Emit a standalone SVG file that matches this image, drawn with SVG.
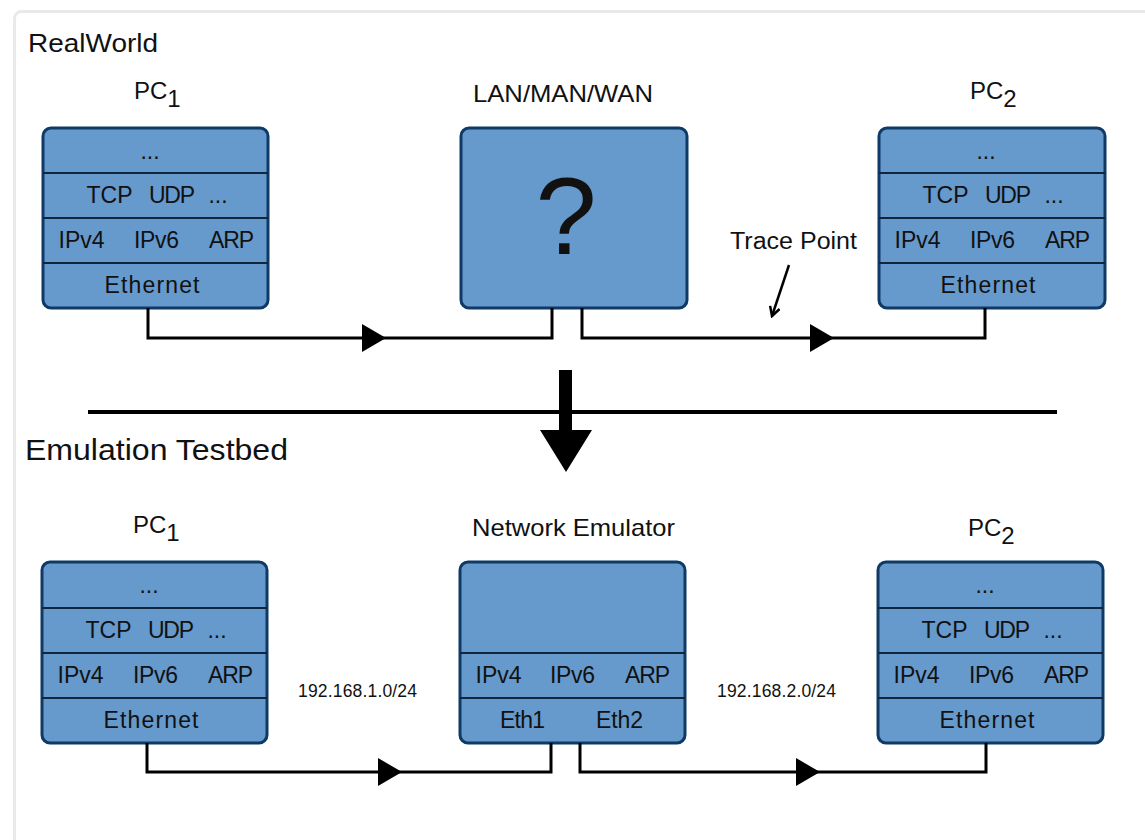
<svg xmlns="http://www.w3.org/2000/svg" width="1145" height="840" viewBox="0 0 1145 840">
<defs>
<style>
text{font-family:"Liberation Sans",Arial,sans-serif;fill:#111;}
.t{font-size:23px;text-anchor:middle;}
.lbl{font-size:24px;}
.big{font-size:30px;}
.ip{font-size:17.5px;}
.box{fill:#6699cc;stroke:#0f3a66;stroke-width:3;}
.div{stroke:#10263d;stroke-width:2;}
.wire{fill:none;stroke:#000;stroke-width:3;}
</style>
<path id="tri" d="M0,-14 L24,0 L0,14 Z" fill="#000"/>
<marker id="open" viewBox="0 0 12 12" refX="10" refY="6" markerWidth="12" markerHeight="12" markerUnits="userSpaceOnUse" orient="auto">
<path d="M1,1 L10,6 L1,11" fill="none" stroke="#000" stroke-width="2.5"/>
</marker>
</defs>
<rect x="0" y="0" width="1145" height="840" fill="#fff"/>
<rect x="14.5" y="11.5" width="1200" height="900" rx="7" fill="#fff" stroke="#e9e9e9" stroke-width="3"/>

<text class="lbl" x="28" y="52" style="font-size:26px" textLength="130" lengthAdjust="spacingAndGlyphs">RealWorld</text>
<text class="big" x="25" y="460" textLength="263" lengthAdjust="spacingAndGlyphs">Emulation Testbed</text>

<g id="pc1-real">
<text class="lbl" x="134" y="99">PC<tspan dy="8">1</tspan></text>
<rect class="box" x="43" y="128" width="225" height="180" rx="8"/>
<line class="div" x1="43" y1="173" x2="268" y2="173"/>
<line class="div" x1="43" y1="218" x2="268" y2="218"/>
<line class="div" x1="43" y1="263" x2="268" y2="263"/>
<text class="t" x="150" y="159">...</text>
<text class="t" x="109.5" y="203">TCP</text><text class="t" x="172" y="203" textLength="46">UDP</text><text class="t" x="218" y="203">...</text>
<text class="t" x="81.5" y="248" textLength="46">IPv4</text><text class="t" x="156.5" y="248" textLength="45">IPv6</text><text class="t" x="231.5" y="248" textLength="45">ARP</text>
<text class="t" x="152" y="293" textLength="95">Ethernet</text>
</g>

<g id="network">
<text class="lbl" x="473" y="102" textLength="180" lengthAdjust="spacingAndGlyphs">LAN/MAN/WAN</text>
<rect class="box" x="461" y="128" width="226" height="180" rx="8"/>
<text x="566" y="254" style="font-size:110px;text-anchor:middle">?</text>
</g>

<g id="pc2-real">
<text class="lbl" x="970" y="99">PC<tspan dy="8">2</tspan></text>
<rect class="box" x="879" y="128" width="226" height="180" rx="8"/>
<line class="div" x1="879" y1="173" x2="1105" y2="173"/>
<line class="div" x1="879" y1="218" x2="1105" y2="218"/>
<line class="div" x1="879" y1="263" x2="1105" y2="263"/>
<text class="t" x="986" y="159">...</text>
<text class="t" x="945.5" y="203">TCP</text><text class="t" x="1008" y="203" textLength="46">UDP</text><text class="t" x="1054" y="203">...</text>
<text class="t" x="917.5" y="248" textLength="46">IPv4</text><text class="t" x="992.5" y="248" textLength="45">IPv6</text><text class="t" x="1067.5" y="248" textLength="45">ARP</text>
<text class="t" x="988" y="293" textLength="95">Ethernet</text>
</g>

<g id="trace-point">
<text class="lbl" x="730" y="249" style="font-size:23px" textLength="127" lengthAdjust="spacingAndGlyphs">Trace Point</text>
<line x1="789" y1="265" x2="772" y2="316" stroke="#000" stroke-width="2.5" marker-end="url(#open)"/>
</g>

<g id="transition">
<line x1="88" y1="412" x2="1057" y2="412" stroke="#000" stroke-width="4"/>
<path d="M559,370 H572 V430 H592 L566,472 L540,430 H559 Z" fill="#000"/>
</g>

<g id="pc1-emu">
<text class="lbl" x="133" y="533">PC<tspan dy="8">1</tspan></text>
<rect class="box" x="42" y="562" width="225" height="181" rx="8"/>
<line class="div" x1="42" y1="608" x2="267" y2="608"/>
<line class="div" x1="42" y1="653" x2="267" y2="653"/>
<line class="div" x1="42" y1="698" x2="267" y2="698"/>
<text class="t" x="149" y="593">...</text>
<text class="t" x="108.5" y="638">TCP</text><text class="t" x="171" y="638" textLength="46">UDP</text><text class="t" x="217" y="638">...</text>
<text class="t" x="80.5" y="683" textLength="46">IPv4</text><text class="t" x="155.5" y="683" textLength="45">IPv6</text><text class="t" x="230.5" y="683" textLength="45">ARP</text>
<text class="t" x="151" y="728" textLength="95">Ethernet</text>
</g>

<g id="emulator">
<text class="lbl" x="472" y="536" textLength="203" lengthAdjust="spacingAndGlyphs">Network Emulator</text>
<rect class="box" x="460" y="562" width="225" height="181" rx="8"/>
<line class="div" x1="460" y1="653" x2="685" y2="653"/>
<line class="div" x1="460" y1="698" x2="685" y2="698"/>
<text class="t" x="498.5" y="683" textLength="46">IPv4</text><text class="t" x="572.5" y="683" textLength="45">IPv6</text><text class="t" x="647.5" y="683" textLength="45">ARP</text>
<text class="t" x="522.5" y="728" textLength="45">Eth1</text><text class="t" x="619.5" y="728" textLength="47">Eth2</text>
</g>

<g id="pc2-emu">
<text class="lbl" x="968" y="536">PC<tspan dy="8">2</tspan></text>
<rect class="box" x="878" y="562" width="225" height="181" rx="8"/>
<line class="div" x1="878" y1="608" x2="1103" y2="608"/>
<line class="div" x1="878" y1="653" x2="1103" y2="653"/>
<line class="div" x1="878" y1="698" x2="1103" y2="698"/>
<text class="t" x="985" y="593">...</text>
<text class="t" x="944.5" y="638">TCP</text><text class="t" x="1007" y="638" textLength="46">UDP</text><text class="t" x="1053" y="638">...</text>
<text class="t" x="916.5" y="683" textLength="46">IPv4</text><text class="t" x="991.5" y="683" textLength="45">IPv6</text><text class="t" x="1066.5" y="683" textLength="45">ARP</text>
<text class="t" x="987" y="728" textLength="95">Ethernet</text>
</g>

<g id="subnets">
<text class="ip" x="298" y="697" textLength="119">192.168.1.0/24</text>
<text class="ip" x="717" y="697" textLength="119">192.168.2.0/24</text>
</g>

<g id="connectors">
<path class="wire" d="M148,308 V338 H552 V308"/>
<path class="wire" d="M582,308 V338 H985 V308"/>
<path class="wire" d="M147,743 V772 H551 V743"/>
<path class="wire" d="M580,743 V772 H986 V743"/>
<use href="#tri" x="362" y="338"/>
<use href="#tri" x="810" y="338"/>
<use href="#tri" x="378" y="772"/>
<use href="#tri" x="796" y="772"/>
</g>
</svg>
